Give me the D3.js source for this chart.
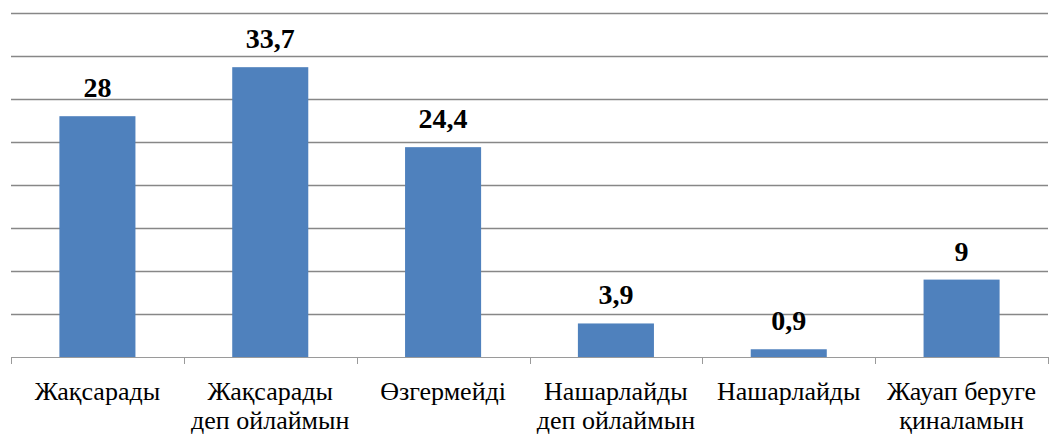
<!DOCTYPE html>
<html><head><meta charset="utf-8"><script src="https://d3js.org/d3.v7.min.js"></script></head>
<body style="margin:0">
<script>
    // данные
    var categories = [
      ["Жақсарады"],
      ["Жақсарады", "деп ойлаймын"],
      ["Өзгермейді"],
      ["Нашарлайды", "деп ойлаймын"],
      ["Нашарлайды"],
      ["Жауап беруге", "қиналамын"]
    ];
    var values = [28, 33.7, 24.4, 3.9, 0.9, 9];
    var valueLabels = ["28", "33,7", "24,4", "3,9", "0,9", "9"];
    var gridTicks = [0, 5, 10, 15, 20, 25, 30, 35, 40];

    var width = 1054, height = 434;
    var plotLeft = 11, plotRight = 1048, plotTop = 13, plotBottom = 357;

    var svg = d3.select("body").append("svg")
      .attr("width", width)
      .attr("height", height);

    var x = d3.scaleBand()
      .domain(d3.range(values.length))
      .range([plotLeft, plotRight])
      .paddingInner(0.56)
      .paddingOuter(0.28);

    var y = d3.scaleLinear()
      .domain([0, 40])
      .range([plotBottom, plotTop]);

    // линии сетки
    svg.selectAll(".grid")
      .data(gridTicks.slice(1))
      .enter().append("line")
      .attr("x1", plotLeft).attr("x2", plotRight)
      .attr("y1", function(d) { return Math.round(y(d)) + 0.5; })
      .attr("y2", function(d) { return Math.round(y(d)) + 0.5; })
      .attr("stroke", "#878787")
      .attr("stroke-width", 1.3);

    // столбцы
    svg.selectAll(".bar")
      .data(values)
      .enter().append("rect")
      .attr("x", function(d, i) { return x(i); })
      .attr("width", x.bandwidth())
      .attr("y", function(d) { return y(d); })
      .attr("height", function(d) { return plotBottom - y(d); })
      .attr("fill", "#4f81bd");

    // ось X
    svg.append("line")
      .attr("x1", plotLeft).attr("x2", plotRight)
      .attr("y1", plotBottom + 0.5).attr("y2", plotBottom + 0.5)
      .attr("stroke", "#9a9a9a");

    var step = x.step();
    svg.selectAll(".tick")
      .data(d3.range(values.length + 1))
      .enter().append("line")
      .attr("x1", function(d) { return Math.round(plotLeft + d * step) + 0.5; })
      .attr("x2", function(d) { return Math.round(plotLeft + d * step) + 0.5; })
      .attr("y1", plotBottom).attr("y2", plotBottom + 7)
      .attr("stroke", "#9a9a9a");

    // подписи значений
    svg.selectAll(".val")
      .data(values)
      .enter().append("text")
      .attr("x", function(d, i) { return x(i) + x.bandwidth() / 2; })
      .attr("y", function(d) { return y(d) - 19; })
      .attr("text-anchor", "middle")
      .style("font-family", "Liberation Serif")
      .style("font-size", "28px")
      .style("font-weight", "bold")
      .text(function(d, i) { return valueLabels[i]; });

    // подписи категорий, каждая строка отдельным text
    var catLines = [];
    categories.forEach(function(lines, i) {
      lines.forEach(function(t, j) { catLines.push({ i: i, j: j, t: t }); });
    });

    svg.selectAll(".cat")
      .data(catLines)
      .enter().append("text")
      .attr("text-anchor", "middle")
      .attr("x", function(d) { return x(d.i) + x.bandwidth() / 2; })
      .attr("y", function(d) { return plotBottom + 43 + d.j * 29; })
      .style("font-family", "Liberation Serif")
      .style("font-size", "26px")
      .text(function(d) { return d.t; });
</script>
</body>
</html>
